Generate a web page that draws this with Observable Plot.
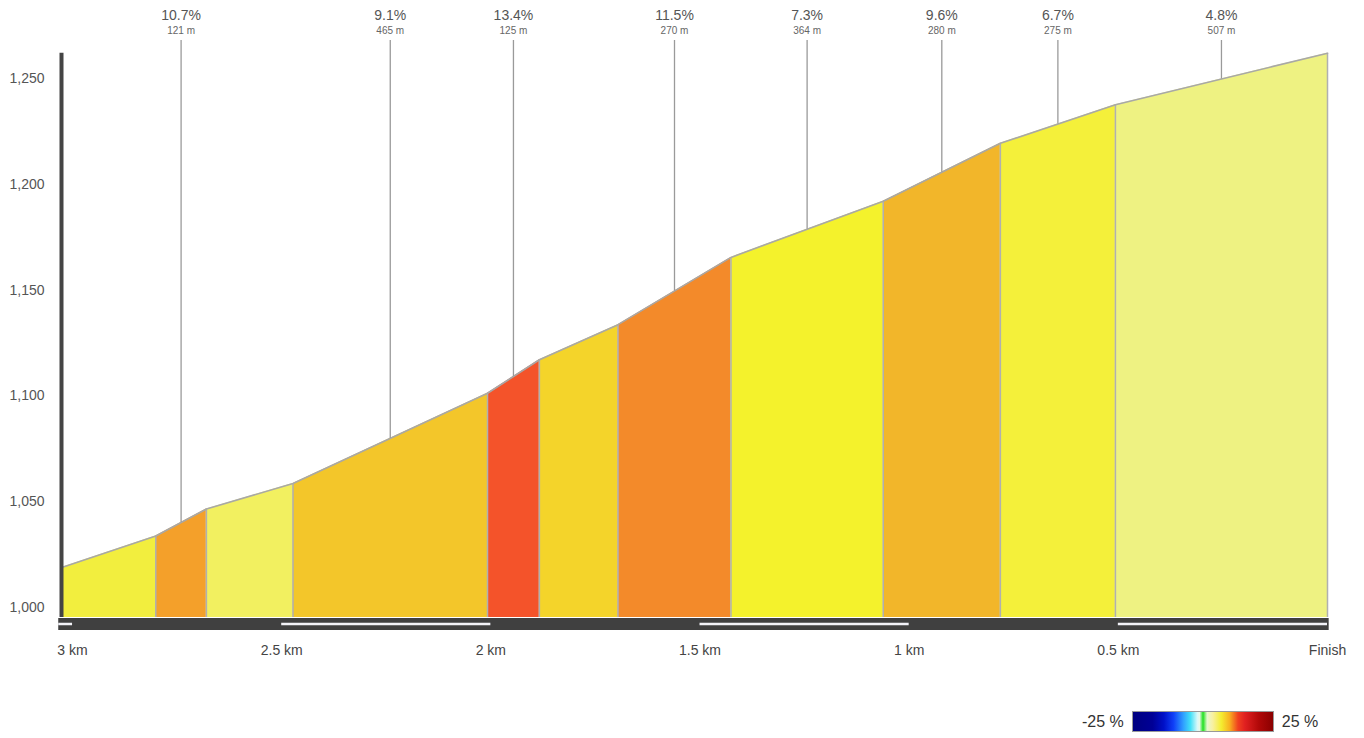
<!DOCTYPE html>
<html>
<head>
<meta charset="utf-8">
<script src="https://cdn.jsdelivr.net/npm/d3@7"></script>
<script src="https://cdn.jsdelivr.net/npm/@observablehq/plot@0.6"></script>
<style>
  html, body { margin: 0; padding: 0; background: #fff; }
  body { width: 1364px; height: 738px; position: relative; overflow: hidden; font-family: "Liberation Sans", Arial, sans-serif; }
  #legend { position: absolute; top: 711px; left: 1082px; display: flex; align-items: center; font-size: 16px; color: #333; }
  #legend .bar { width: 140px; height: 19px; margin: 0 8px 0 8px; border: 1px solid #999;
    background: linear-gradient(to right, #000080 0%, #000096 14%, #0010c8 22%, #1040f8 29%, #30a0ff 36%, #40e0f8 41%, #d8f8f8 46%, #e8f8e8 47.5%, #20e020 50%, #e8f8d0 53%, #f8f0a0 57%, #f4ee30 63%, #f8b020 69%, #f04020 75%, #e02020 80%, #b00808 90%, #8a0000 100%); }
</style>
</head>
<body>
<div id="chart"></div>
<div id="legend"><span>-25 %</span><div class="bar"></div><span>25 %</span></div>
<script>
// Segment boundaries: distance remaining (m) and elevation (m)
const dist = [3024, 2801, 2680, 2473, 2008, 1884, 1696, 1426, 1062, 782, 507, 0];
const elev = [1019.0, 1033.8, 1046.6, 1058.6, 1101.3, 1117.1, 1133.7, 1165.5, 1192.0, 1219.4, 1237.6, 1262.0];
const segColors = ["#f2ee3e", "#f4a02a", "#f2f060", "#f3c62a", "#f4532a", "#f4d42a", "#f38a2a", "#f4f22c", "#f2b62a", "#f4f03a", "#eef282"];
const gradeLabels = [null, "10.7%", null, "9.1%", "13.4%", null, "11.5%", "7.3%", "9.6%", "6.7%", "4.8%"];
const lengthLabels = [null, "121 m", null, "465 m", "125 m", null, "270 m", "364 m", "280 m", "275 m", "507 m"];
const xTicks = [3000, 2500, 2000, 1500, 1000, 500, 0];
const xTickLabels = ["3 km", "2.5 km", "2 km", "1.5 km", "1 km", "0.5 km", "Finish"];
const yTicks = [1000, 1050, 1100, 1150, 1200, 1250];
const kmBandStart = [3033, 2500, 1500, 500];
const kmBandEnd = [3000, 2000, 1000, 0];

const yBase = 995.3;
const yTop = 1262;
const leaderTop = 1268;
const barStart = 3033, barEnd = -4;

const pts = [];
for (let i = 0; i < segColors.length; i++) {
  pts.push({seg: i, d: dist[i], e: elev[i], color: segColors[i]});
  pts.push({seg: i, d: dist[i + 1], e: elev[i + 1], color: segColors[i]});
}
const profile = dist.map((d, i) => ({d, e: elev[i]}));
const separators = d3.range(1, dist.length);
const labeled = d3.range(segColors.length).filter(i => gradeLabels[i] !== null);
const mid = i => (dist[i] + dist[i + 1]) / 2;
const midElev = i => (elev[i] + elev[i + 1]) / 2;

const chart = Plot.plot({
  width: 1364,
  height: 690,
  marginLeft: 62,
  marginRight: 37,
  marginTop: 52.7,
  marginBottom: 73,
  style: {fontFamily: "'Liberation Sans', Arial, sans-serif", background: "white"},
  x: {domain: [3024, 0], label: null},
  y: {domain: [yBase, yTop], label: null},
  color: {type: "identity"},
  marks: [
    Plot.areaY(pts, {x: "d", y1: yBase, y2: "e", z: "seg", fill: "color"}),
    Plot.ruleX(separators, {x: i => dist[i], y1: yBase, y2: i => elev[i], stroke: "#b0b0b0", strokeWidth: 1.5}),
    Plot.line(profile, {x: "d", y: "e", stroke: "#a8a8a8", strokeWidth: 1.6}),
    Plot.ruleX(labeled, {x: mid, y1: midElev, y2: leaderTop, stroke: "#9a9a9a", strokeWidth: 1.3}),
    Plot.text(labeled, {x: mid, text: i => gradeLabels[i], frameAnchor: "top", lineAnchor: "middle", dy: -37.5, fontSize: 14, fill: "#555"}),
    Plot.text(labeled, {x: mid, text: i => lengthLabels[i], frameAnchor: "top", lineAnchor: "middle", dy: -22, fontSize: 10, fill: "#666"}),
    Plot.ruleX([3024], {stroke: "#444", strokeWidth: 4, dx: -1}),
    Plot.ruleY([yBase], {x1: barStart, x2: barEnd, stroke: "#404040", strokeWidth: 12, dy: 6.5}),
    Plot.ruleY(kmBandStart.map((s, i) => ({s, e: kmBandEnd[i]})), {x1: "s", x2: "e", y: yBase, stroke: "#f2f2f8", strokeWidth: 2.5, dy: 6.5}),
    Plot.axisY(yTicks, {tickSize: 0, tickPadding: 18, tickFormat: d3.format(","), fontSize: 14, fill: "#555", label: null}),
    Plot.axisX(xTicks, {tickSize: 0, tickPadding: 28, tickFormat: d => xTickLabels[xTicks.indexOf(d)], fontSize: 14, fill: "#444", label: null})
  ]
});
document.getElementById("chart").appendChild(chart);
</script>
</body>
</html>
